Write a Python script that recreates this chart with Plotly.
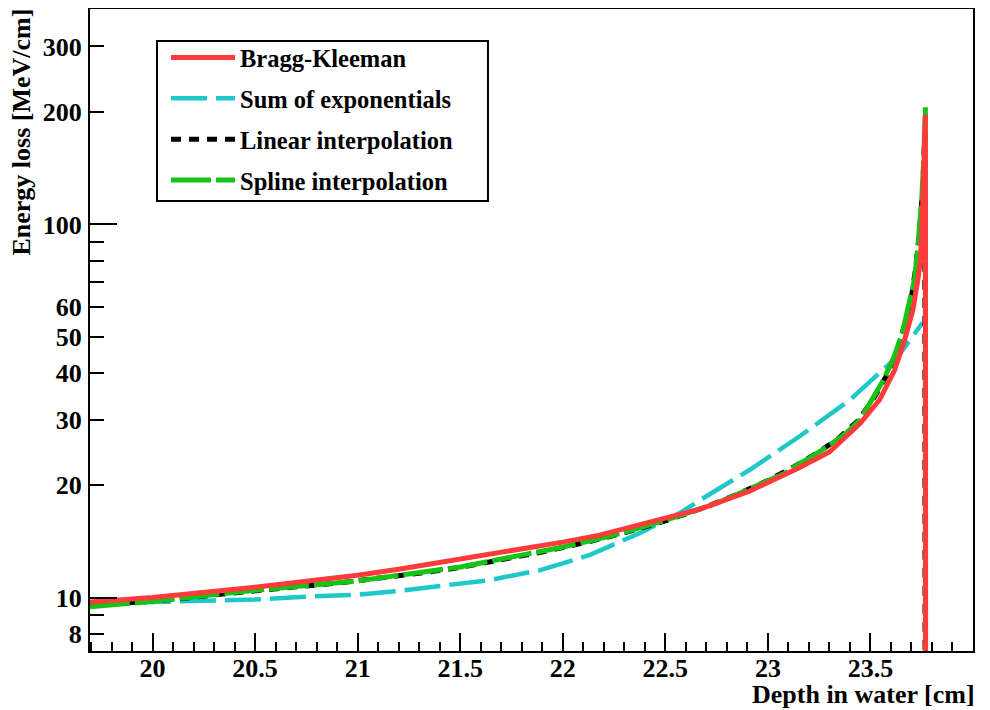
import plotly.graph_objects as go

# ---------------- data ----------------
# Bragg-Kleeman
x_red = [19.695, 20.0, 20.5, 20.72, 21.0, 21.2, 21.4, 21.5, 21.7, 21.89, 22.0, 22.18,
         22.42, 22.67, 22.91, 23.15, 23.3, 23.45, 23.545, 23.618, 23.667, 23.707,
         23.731, 23.744, 23.752, 23.758, 23.763, 23.766, 23.768, 23.770]
y_red = [9.73, 10.0, 10.66, 10.99, 11.48, 11.91, 12.42, 12.59, 13.23, 13.72, 14.08, 14.7,
         15.93, 17.26, 19.29, 22.24, 24.55, 29.3, 33.9, 40.7, 49.1, 59.1,
         71.1, 80.5, 100.0, 125.0, 152.0, 175.0, 197.0, 0.5]

# Sum of exponentials
x_cyan = [19.695, 20.0, 20.5, 20.72, 21.0, 21.2, 21.4, 21.64, 21.89, 22.13, 22.375,
          22.57, 22.67, 22.91, 23.15, 23.4, 23.64, 23.754]
y_cyan = [9.64, 9.73, 9.88, 10.04, 10.17, 10.42, 10.75, 11.13, 11.84, 12.99, 14.88,
          16.84, 18.25, 21.97, 26.93, 33.86, 44.7, 54.5]

# Linear interpolation
x_black = [19.695, 19.9, 20.1, 20.3, 20.5, 20.7, 20.9, 21.1, 21.3, 21.5, 21.7,
           21.9, 22.1, 22.3, 22.5, 22.7, 22.85, 23.0, 23.12, 23.24, 23.34, 23.44,
           23.52, 23.58, 23.63, 23.67, 23.70, 23.72, 23.74, 23.755, 23.765, 23.767]
y_black = [9.5, 9.66, 9.88, 10.16, 10.44, 10.68, 10.93, 11.25, 11.62, 12.04, 12.6,
           13.25, 14.0, 14.9, 16.05, 17.5, 18.9, 20.6, 22.3, 24.4, 26.6, 29.8,
           34.5, 39.5, 46.0, 54.5, 64.0, 76.0, 96.0, 126.0, 172.0, 0.5]

# Spline interpolation
x_green = [19.695, 20.0, 20.5, 21.0, 21.5, 22.0, 22.25, 22.5, 22.75, 23.0, 23.08,
           23.155, 23.2, 23.3, 23.38, 23.45, 23.5, 23.56, 23.61, 23.656, 23.69,
           23.715, 23.73, 23.75, 23.76, 23.768, 23.7685]
y_green = [9.44, 9.77, 10.46, 11.08, 12.08, 13.65, 14.7, 16.1, 17.9, 20.6, 21.5,
           22.9, 23.6, 25.6, 27.5, 30.0, 33.2, 38.0, 43.4, 51.3, 62.0,
           71.1, 85.7, 116.6, 150.0, 206.0, 0.5]

names = ["Bragg-Kleeman", "Sum of exponentials", "Linear interpolation", "Spline interpolation"]

y_tickvals = [8, 9, 10, 20, 30, 40, 50, 60, 70, 80, 90, 100, 200, 300]
y_ticktext = ["8", "", "10", "20", "30", "40", "50", "60", "", "", "", "100", "200", "300"]
y_long_ticks = [10, 100]

FONT = "Liberation Serif"

fig = go.Figure()

fig.add_trace(go.Scatter(
    x=x_cyan, y=y_cyan, mode="lines", name=names[1], legendrank=2, legendgroup="b",
    line=dict(color="#1fc8c8", width=4.5, dash="36px,9px")))
fig.add_trace(go.Scatter(
    x=x_black, y=y_black, mode="lines", name=names[2], legendrank=3, legendgroup="c",
    line=dict(color="black", width=5, dash="10px,8px")))
fig.add_trace(go.Scatter(
    x=x_green, y=y_green, mode="lines", name=names[3], legendrank=4, legendgroup="d",
    line=dict(color="#16c416", width=5, dash="40px,5px")))
fig.add_trace(go.Scatter(
    x=x_red, y=y_red, mode="lines", name=names[0], legendrank=1, legendgroup="a",
    line=dict(color="#ff3a3a", width=5), yaxis="y2"))

yrange = [0.8567, 2.5775]
tickfont = dict(family=FONT, size=26, color="black", weight="bold")

fig.update_layout(
    width=974, height=702,
    margin=dict(l=82, r=9, t=1, b=59),
    paper_bgcolor="white", plot_bgcolor="white",
    showlegend=True,
    legend=dict(
        x=0.0861, y=0.9595, xanchor="left", yanchor="top",
        borderwidth=0, bgcolor="rgba(0,0,0,0)",
        font=dict(family=FONT, size=24.5, color="black", weight="bold"),
        tracegroupgap=6, itemwidth=64,
    ),
    shapes=[
        dict(type="rect", xref="paper", yref="paper",
             x0=0.0759, x1=0.4507, y0=0.7009, y1=0.9502,
             line=dict(color="black", width=2), fillcolor="white", layer="below"),
    ],
    xaxis=dict(
        range=[19.695, 24.0], tickmode="linear", tick0=20, dtick=0.5,
        ticks="inside", ticklen=18, tickwidth=2, tickcolor="black",
        minor=dict(tickmode="linear", tick0=20, dtick=0.1, ticks="inside",
                   ticklen=9, tickwidth=2, tickcolor="black", showgrid=False),
        showline=True, linewidth=2, linecolor="black", mirror=True, automargin=False,
        showgrid=False, zeroline=False, tickfont=tickfont, ticklabelstandoff=-7,
    ),
    yaxis=dict(
        type="log", range=yrange, tickmode="array",
        tickvals=y_tickvals, ticktext=y_ticktext, automargin=False,
        ticks="inside", ticklen=14, tickwidth=2, tickcolor="black",
        showline=True, linewidth=2, linecolor="black", mirror=True,
        showgrid=False, zeroline=False, tickfont=tickfont, ticklabelstandoff=1,
    ),
    yaxis2=dict(
        type="log", range=yrange, overlaying="y", side="left", automargin=False,
        tickmode="array", tickvals=y_long_ticks, ticks="inside", ticklen=27,
        tickwidth=2, tickcolor="black", showticklabels=False,
        showline=False, showgrid=False, zeroline=False,
    ),
    annotations=[
        dict(text="Energy loss [MeV/cm]", textangle=-90, xref="paper", yref="paper",
             x=-0.077, y=1.003, xanchor="center", yanchor="top", showarrow=False,
             font=dict(family=FONT, size=26, color="black", weight="bold")),
        dict(text="Depth in water [cm]", xref="paper", yref="paper",
             x=1.005, y=-0.068, xanchor="right", yanchor="middle", showarrow=False,
             font=dict(family=FONT, size=26, color="black", weight="bold")),
    ],
)

fig.write_html("out.html")
